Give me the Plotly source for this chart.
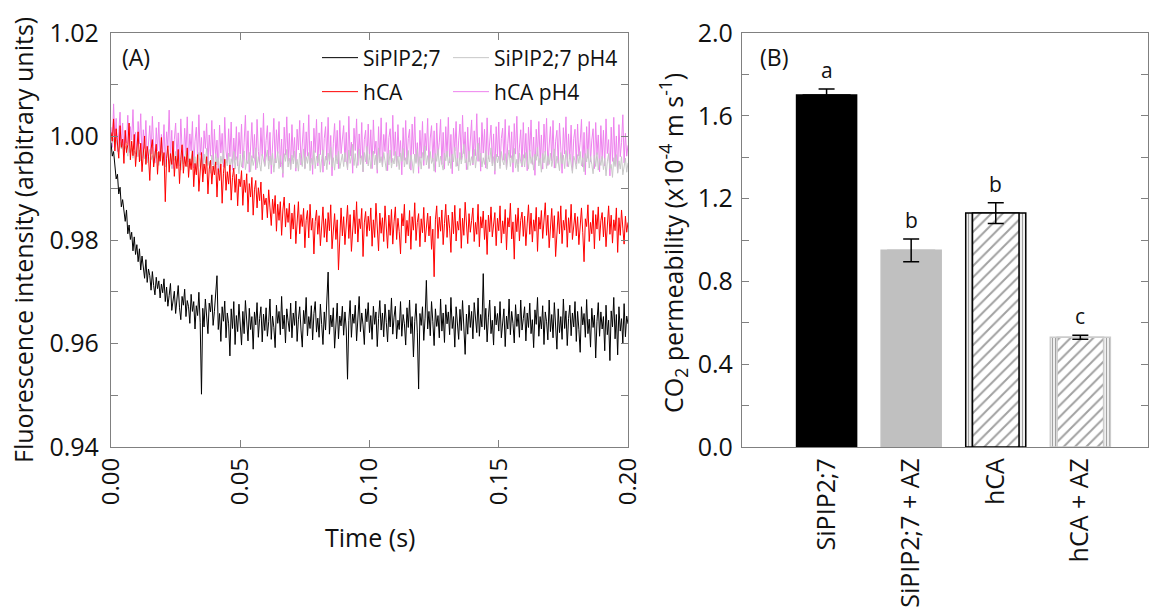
import plotly.graph_objects as go

# ---------------- Panel A data ----------------
time_step = 0.0005
n_points = 401
time_s = [round(i * time_step, 4) for i in range(n_points)]

sipip_trace = [
    0.9988, 0.9962, 0.9971, 0.9935, 0.9918, 0.9927, 0.9889, 0.9902, 0.9864, 0.9878, 0.9851, 0.9836, 0.9858, 0.9812, 0.9829, 0.9801, 0.9815, 0.9779, 0.9806, 0.9772,
    0.9791, 0.9758, 0.9783, 0.9742, 0.9769, 0.9751, 0.9726, 0.9762, 0.9718, 0.9744, 0.9731, 0.9703, 0.9739, 0.9712, 0.9694, 0.9728, 0.9706, 0.9721, 0.9688, 0.9715,
    0.9698, 0.9725, 0.9681, 0.9709, 0.9672, 0.9693, 0.9716, 0.9664, 0.9689, 0.9701, 0.9658, 0.9684, 0.9712, 0.9669, 0.9646, 0.9691, 0.9674, 0.9705, 0.9652, 0.9683,
    0.9671, 0.9639, 0.9695, 0.9662, 0.9681, 0.9628, 0.9673, 0.9654, 0.9699, 0.9641, 0.9502, 0.9668, 0.9632, 0.9686, 0.9657, 0.9619, 0.9678, 0.9661, 0.9694, 0.9635,
    0.9662, 0.9689, 0.9731, 0.9627, 0.9658, 0.9604, 0.9671, 0.9643, 0.9682, 0.9611, 0.9659, 0.9638, 0.9576, 0.9667, 0.9629, 0.9681, 0.9598, 0.9654, 0.9623, 0.9676,
    0.9634, 0.9597, 0.9662, 0.9619, 0.9683, 0.9641, 0.9605, 0.9668, 0.9627, 0.9652, 0.9589, 0.9661, 0.9636, 0.9679, 0.9612, 0.9648, 0.9671, 0.9603, 0.9657, 0.9625,
    0.9669, 0.9614, 0.9642, 0.9686, 0.9608, 0.9653, 0.9631, 0.9592, 0.9674, 0.9639, 0.9662, 0.9617, 0.9691, 0.9628, 0.9655, 0.9601, 0.9667, 0.9644, 0.9623, 0.9678,
    0.9611, 0.9659, 0.9635, 0.9682, 0.9604, 0.9647, 0.9671, 0.9626, 0.9593, 0.9664, 0.9638, 0.9689, 0.9615, 0.9652, 0.9629, 0.9673, 0.9607, 0.9658, 0.9681, 0.9622,
    0.9649, 0.9612, 0.9676, 0.9637, 0.9598, 0.9661, 0.9626, 0.9684, 0.9738, 0.9618, 0.9655, 0.9632, 0.9669, 0.9591, 0.9647, 0.9678, 0.9609, 0.9653, 0.9634, 0.9672,
    0.9616, 0.9661, 0.9628, 0.9531, 0.9644, 0.9683, 0.9612, 0.9657, 0.9639, 0.9674, 0.9605, 0.9648, 0.9691, 0.9623, 0.9659, 0.9636, 0.9598, 0.9667, 0.9642, 0.9679,
    0.9621, 0.9654, 0.9608, 0.9672, 0.9637, 0.9661, 0.9594, 0.9648, 0.9683, 0.9626, 0.9659, 0.9613, 0.9676, 0.9641, 0.9603, 0.9665, 0.9632, 0.9688, 0.9618, 0.9651,
    0.9672, 0.9609, 0.9645, 0.9627, 0.9681, 0.9614, 0.9656, 0.9638, 0.9597, 0.9669, 0.9631, 0.9684, 0.9619, 0.9652, 0.9574, 0.9643, 0.9677, 0.9622, 0.9512, 0.9658,
    0.9635, 0.9671, 0.9606, 0.9649, 0.9722, 0.9628, 0.9662, 0.9615, 0.9681, 0.9642, 0.9596, 0.9667, 0.9633, 0.9654, 0.9611, 0.9686, 0.9624, 0.9659, 0.9602, 0.9675,
    0.9638, 0.9661, 0.9617, 0.9689, 0.9629, 0.9652, 0.9593, 0.9671, 0.9644, 0.9608, 0.9666, 0.9625, 0.9683, 0.9639, 0.9579, 0.9657, 0.9618, 0.9674, 0.9631, 0.9662,
    0.9609, 0.9679, 0.9642, 0.9621, 0.9688, 0.9614, 0.9656, 0.9632, 0.9735, 0.9627, 0.9668, 0.9603, 0.9651, 0.9684, 0.9619, 0.9645, 0.9597, 0.9672, 0.9636, 0.9658,
    0.9624, 0.9681, 0.9611, 0.9649, 0.9667, 0.9594, 0.9653, 0.9628, 0.9686, 0.9617, 0.9662, 0.9639, 0.9601, 0.9675, 0.9633, 0.9657, 0.9612, 0.9684, 0.9626, 0.9648,
    0.9671, 0.9605, 0.9659, 0.9631, 0.9678, 0.9619, 0.9646, 0.9592, 0.9665, 0.9637, 0.9689, 0.9614, 0.9652, 0.9628, 0.9673, 0.9598, 0.9661, 0.9642, 0.9607, 0.9684,
    0.9623, 0.9656, 0.9611, 0.9679, 0.9634, 0.9589, 0.9667, 0.9621, 0.9652, 0.9608, 0.9686, 0.9629, 0.9663, 0.9596, 0.9648, 0.9674, 0.9615, 0.9659, 0.9632, 0.9681,
    0.9604, 0.9662, 0.9627, 0.9583, 0.9671, 0.9636, 0.9658, 0.9612, 0.9685, 0.9619, 0.9647, 0.9593, 0.9668, 0.9631, 0.9655, 0.9572, 0.9643, 0.9679, 0.9614, 0.9661,
    0.9628, 0.9652, 0.9586, 0.9674, 0.9617, 0.9645, 0.9567, 0.9663, 0.9632, 0.9689, 0.9609, 0.9656, 0.9578, 0.9671, 0.9624, 0.9648, 0.9601, 0.9677, 0.9613, 0.9653,
    0.9638,
]

hca_trace = [
    1.0008, 0.9991, 1.0034, 0.9972, 1.0015, 0.9986, 0.9958, 1.0021, 0.9979, 0.9995, 0.9948, 1.0012, 0.9969, 0.9984, 1.0026, 0.9955, 0.9991, 0.9963, 1.0004, 0.9942,
    0.9978, 1.0009, 0.9951, 0.9987, 0.9932, 0.9973, 1.0001, 0.9946, 0.9981, 0.9962, 0.9915, 0.9976, 0.9994, 0.9941, 0.9968, 0.9985, 0.9927, 0.9971, 0.9952, 0.9998,
    0.9944, 0.9969, 0.9874, 0.9958, 0.9982, 0.9931, 0.9967, 0.9946, 0.9991, 0.9923, 0.9962, 0.9938, 0.9975, 0.9909, 0.9956, 0.9984, 0.9929, 0.9961, 0.9942, 0.9978,
    0.9921, 0.9957, 0.9936, 0.9972, 0.9903, 0.9948, 0.9926, 0.9965, 0.9894, 0.9941, 0.9969, 0.9912, 0.9947, 0.9928, 0.9961, 0.9889, 0.9937, 0.9954, 0.9908, 0.9943,
    0.9926, 0.9951, 0.9883, 0.9938, 0.9915, 0.9947, 0.9871, 0.9929, 0.9956, 0.9896, 0.9932, 0.9908, 0.9945, 0.9877, 0.9921, 0.9939, 0.9892, 0.9927, 0.9866, 0.9918,
    0.9903, 0.9934, 0.9867, 0.9916, 0.9892, 0.9928, 0.9854, 0.9909, 0.9883, 0.9921, 0.9848, 0.9897, 0.9915, 0.9862, 0.9901, 0.9876, 0.9912, 0.9839, 0.9889, 0.9868,
    0.9881, 0.9843, 0.9897, 0.9862, 0.9828, 0.9879, 0.9851, 0.9886, 0.9817, 0.9869, 0.9838, 0.9874, 0.9809, 0.9858, 0.9883, 0.9825, 0.9861, 0.9834, 0.9871, 0.9802,
    0.9852, 0.9821, 0.9868, 0.9793, 0.9845, 0.9874, 0.9812, 0.9849, 0.9826, 0.9861, 0.9785, 0.9838, 0.9857, 0.9804, 0.9869, 0.9819, 0.9842, 0.9773, 0.9836, 0.9858,
    0.9811, 0.9847, 0.9789, 0.9832, 0.9864, 0.9805, 0.9841, 0.9796, 0.9853, 0.9818, 0.9868, 0.9783, 0.9829, 0.9851, 0.9801, 0.9839, 0.9742, 0.9826, 0.9862, 0.9808,
    0.9845, 0.9791, 0.9836, 0.9867, 0.9803, 0.9849, 0.9778, 0.9829, 0.9858, 0.9812, 0.9874, 0.9796, 0.9841, 0.9822, 0.9861, 0.9768, 0.9833, 0.9855, 0.9807, 0.9846,
    0.9818, 0.9862, 0.9788, 0.9839, 0.9805, 0.9871, 0.9824, 0.9779, 0.9852, 0.9813, 0.9843, 0.9797, 0.9866, 0.9821, 0.9784, 0.9848, 0.9809, 0.9859, 0.9792, 0.9835,
    0.9864, 0.9801, 0.9842, 0.9816, 0.9773, 0.9851, 0.9827, 0.9869, 0.9794, 0.9838, 0.9808, 0.9857, 0.9782, 0.9845, 0.9819, 0.9872, 0.9799, 0.9834, 0.9851, 0.9787,
    0.9841, 0.9814, 0.9863, 0.9796, 0.9829, 0.9852, 0.9808, 0.9846, 0.9782, 0.9821, 0.9729, 0.9839, 0.9866, 0.9803, 0.9844, 0.9817, 0.9858, 0.9791, 0.9832, 0.9869,
    0.9805, 0.9848, 0.9823, 0.9776, 0.9854, 0.9812, 0.9867, 0.9798, 0.9836, 0.9819, 0.9861, 0.9784, 0.9842, 0.9809, 0.9873, 0.9826, 0.9793, 0.9851, 0.9815, 0.9838,
    0.9862, 0.9797, 0.9834, 0.9811, 0.9869, 0.9787, 0.9845, 0.9823, 0.9856, 0.9801, 0.9839, 0.9772, 0.9848, 0.9816, 0.9864, 0.9806, 0.9831, 0.9853, 0.9789, 0.9842,
    0.9818, 0.9866, 0.9794, 0.9837, 0.9812, 0.9859, 0.9781, 0.9843, 0.9825, 0.9871, 0.9802, 0.9835, 0.9763, 0.9849, 0.9816, 0.9862, 0.9798, 0.9838, 0.9854, 0.9807,
    0.9846, 0.9789, 0.9831, 0.9868, 0.9811, 0.9852, 0.9796, 0.9839, 0.9817, 0.9863, 0.9778, 0.9844, 0.9821, 0.9857, 0.9803, 0.9836, 0.9872, 0.9809, 0.9848, 0.9785,
    0.9833, 0.9861, 0.9804, 0.9847, 0.9768, 0.9829, 0.9855, 0.9812, 0.9866, 0.9793, 0.9838, 0.9819, 0.9859, 0.9786, 0.9843, 0.9814, 0.9869, 0.9801, 0.9834, 0.9852,
    0.9808, 0.9845, 0.9791, 0.9836, 0.9862, 0.9815, 0.9758, 0.9841, 0.9826, 0.9868, 0.9797, 0.9834, 0.9812, 0.9857, 0.9783, 0.9849, 0.9821, 0.9864, 0.9799, 0.9837,
    0.9853, 0.9806, 0.9844, 0.9787, 0.9831, 0.9866, 0.9811, 0.9848, 0.9794, 0.9839, 0.9818, 0.9862, 0.9776, 0.9843, 0.9809, 0.9858, 0.9823, 0.9792, 0.9846, 0.9815,
    0.9834,
]

sipip_ph4_trace = [
    1.0004, 0.9987, 0.9996, 0.9979, 0.9993, 0.9982, 0.9971, 0.9989, 0.9976, 0.9985, 0.9968, 0.9981, 0.9974, 0.9962, 0.9983, 0.9969, 0.9977, 0.9958, 0.9972, 0.9966,
    0.9979, 0.9961, 0.9974, 0.9953, 0.9968, 0.9976, 0.9957, 0.9971, 0.9949, 0.9966, 0.9975, 0.9955, 0.9963, 0.9947, 0.9972, 0.9958, 0.9969, 0.9944, 0.9961, 0.9973,
    0.9952, 0.9967, 0.9941, 0.9963, 0.9975, 0.9948, 0.9959, 0.9938, 0.9966, 0.9954, 0.9971, 0.9943, 0.9962, 0.9951, 0.9935, 0.9968, 0.9947, 0.9959, 0.9972, 0.9941,
    0.9963, 0.9939, 0.9957, 0.9974, 0.9946, 0.9961, 0.9932, 0.9955, 0.9969, 0.9942, 0.9958, 0.9936, 0.9966, 0.9949, 0.9977, 0.9944, 0.9952, 0.9929, 0.9964, 0.9951,
    0.9938, 0.9967, 0.9945, 0.9959, 0.9931, 0.9962, 0.9948, 0.9973, 0.9939, 0.9956, 0.9943, 0.9968, 0.9934, 0.9957, 0.9946, 0.9971, 0.9937, 0.9961, 0.9952, 0.9928,
    0.9965, 0.9941, 0.9958, 0.9972, 0.9936, 0.9954, 0.9947, 0.9969, 0.9932, 0.9963, 0.9944, 0.9956, 0.9978, 0.9939, 0.9961, 0.9948, 0.9933, 0.9966, 0.9951, 0.9942,
    0.9959, 0.9974, 0.9937, 0.9962, 0.9945, 0.9968, 0.9931, 0.9957, 0.9949, 0.9971, 0.9938, 0.9963, 0.9946, 0.9929, 0.9967, 0.9952, 0.9975, 0.9941, 0.9958, 0.9936,
    0.9964, 0.9947, 0.9972, 0.9939, 0.9956, 0.9933, 0.9968, 0.9951, 0.9942, 0.9976, 0.9937, 0.9961, 0.9948, 0.9969, 0.9934, 0.9958, 0.9945, 0.9973, 0.9938, 0.9962,
    0.9949, 0.9966, 0.9931, 0.9957, 0.9974, 0.9943, 0.9962, 0.9936, 0.9968, 0.9952, 0.9979, 0.9941, 0.9959, 0.9935, 0.9964, 0.9947, 0.9971, 0.9938, 0.9955, 0.9966,
    0.9942, 0.9969, 0.9953, 0.9937, 0.9974, 0.9948, 0.9961, 0.9985, 0.9944, 0.9967, 0.9939, 0.9958, 0.9976, 0.9946, 0.9963, 0.9932, 0.9969, 0.9951, 0.9981, 0.9943,
    0.9966, 0.9938, 0.9957, 0.9972, 0.9945, 0.9964, 0.9936, 0.9978, 0.9949, 0.9961, 0.9941, 0.9969, 0.9953, 0.9934, 0.9967, 0.9945, 0.9974, 0.9939, 0.9958, 0.9947,
    0.9971, 0.9943, 0.9962, 0.9936, 0.9968, 0.9952, 0.9977, 0.9941, 0.9959, 0.9946, 0.9973, 0.9938, 0.9964, 0.9951, 0.9929, 0.9966, 0.9948, 0.9975, 0.9942, 0.9961,
    0.9937, 0.9969, 0.9954, 0.9982, 0.9945, 0.9963, 0.9939, 0.9971, 0.9948, 0.9958, 0.9933, 0.9967, 0.9952, 0.9976, 0.9941, 0.9962, 0.9947, 0.9935, 0.9968, 0.9953,
    0.9972, 0.9944, 0.9961, 0.9938, 0.9966, 0.9951, 0.9979, 0.9942, 0.9958, 0.9934, 0.9969, 0.9947, 0.9963, 0.9985, 0.9949, 0.9957, 0.9936, 0.9972, 0.9944, 0.9961,
    0.9948, 0.9975, 0.9939, 0.9963, 0.9987, 0.9952, 0.9968, 0.9941, 0.9959, 0.9946, 0.9973, 0.9937, 0.9964, 0.9951, 0.9978, 0.9943, 0.9961, 0.9934, 0.9966, 0.9949,
    0.9962, 0.9938, 0.9971, 0.9953, 0.9945, 0.9967, 0.9936, 0.9958, 0.9974, 0.9942, 0.9963, 0.9949, 0.9977, 0.9939, 0.9956, 0.9932, 0.9968, 0.9951, 0.9943, 0.9965,
    0.9941, 0.9969, 0.9952, 0.9937, 0.9974, 0.9948, 0.9961, 0.9935, 0.9966, 0.9954, 0.9979, 0.9943, 0.9958, 0.9931, 0.9967, 0.9949, 0.9972, 0.9938, 0.9963, 0.9946,
    0.9968, 0.9942, 0.9957, 0.9976, 0.9939, 0.9962, 0.9951, 0.9934, 0.9969, 0.9947, 0.9964, 0.9938, 0.9973, 0.9955, 0.9941, 0.9966, 0.9949, 0.9929, 0.9962, 0.9953,
    0.9937, 0.9965, 0.9948, 0.9971, 0.9943, 0.9959, 0.9932, 0.9967, 0.9951, 0.9976, 0.9939, 0.9961, 0.9946, 0.9928, 0.9964, 0.9942, 0.9969, 0.9935, 0.9957, 0.9944,
    0.9962, 0.9936, 0.9958, 0.9924, 0.9951, 0.9967, 0.9938, 0.9946, 0.9921, 0.9959, 0.9942, 0.9965, 0.9929, 0.9953, 0.9937, 0.9961, 0.9926, 0.9948, 0.9958, 0.9931,
    0.9949,
]

hca_ph4_trace = [
    1.0018, 0.9979, 1.0063, 0.9992, 1.0035, 0.9971, 1.0009, 1.0047, 0.9983, 1.0026, 0.9964, 1.0011, 0.9988, 1.0041, 0.9969, 1.0019, 0.9993, 1.0052, 0.9975, 1.0008,
    0.9961, 1.0029, 0.9986, 1.0044, 0.9958, 1.0013, 0.9977, 1.0031, 0.9952, 0.9996, 1.0021, 0.9966, 1.0039, 0.9981, 0.9949, 1.0017, 0.9972, 1.0028, 0.9955, 1.0004,
    0.9968, 1.0023, 0.9947, 1.0009, 0.9981, 1.0051, 0.9959, 1.0012, 0.9938, 0.9994, 1.0026, 0.9961, 1.0007, 0.9943, 1.0034, 0.9975, 0.9952, 1.0016, 0.9969, 1.0038,
    0.9951, 1.0005, 0.9972, 1.0029, 0.9939, 0.9991, 1.0018, 0.9956, 1.0042, 0.9964, 0.9998, 0.9934, 1.0011, 0.9977, 1.0025, 0.9948, 1.0003, 0.9962, 1.0031, 0.9945,
    1.0014, 0.9958, 0.9993, 0.9927, 1.0022, 0.9968, 1.0006, 0.9941, 1.0037, 0.9972, 0.9949, 1.0015, 0.9961, 1.0028, 0.9935, 0.9997, 0.9954, 1.0019, 0.9943, 1.0008,
    0.9966, 1.0024, 0.9939, 0.9989, 1.0041, 0.9952, 1.0011, 0.9931, 0.9985, 1.0027, 0.9958, 1.0004, 0.9936, 1.0033, 0.9971, 0.9947, 1.0017, 0.9962, 1.0045, 0.9944,
    0.9992, 1.0021, 0.9953, 1.0008, 0.9928, 0.9986, 1.0035, 0.9949, 1.0013, 0.9967, 1.0029, 0.9941, 0.9995, 0.9921, 1.0018, 0.9964, 1.0038, 0.9952, 1.0006, 0.9937,
    1.0023, 0.9959, 0.9998, 0.9933, 1.0014, 0.9974, 1.0031, 0.9945, 0.9988, 1.0026, 0.9939, 1.0009, 0.9962, 1.0042, 0.9948, 0.9991, 0.9927, 1.0016, 0.9969, 1.0033,
    0.9943, 1.0007, 0.9965, 1.0028, 0.9931, 0.9996, 1.0019, 0.9954, 1.0037, 0.9946, 1.0002, 0.9924, 0.9987, 1.0025, 0.9958, 1.0012, 0.9938, 1.0031, 0.9967, 0.9993,
    1.0021, 0.9951, 1.0008, 0.9936, 1.0039, 0.9962, 0.9989, 0.9929, 1.0016, 0.9973, 1.0034, 0.9944, 1.0005, 0.9958, 1.0027, 0.9932, 0.9994, 1.0012, 0.9947, 1.0024,
    0.9956, 1.0013, 0.9938, 1.0032, 0.9967, 0.9991, 0.9929, 1.0019, 0.9952, 1.0036, 0.9945, 1.0004, 0.9971, 1.0027, 0.9934, 0.9998, 1.0015, 0.9949, 1.0041, 0.9963,
    1.0009, 0.9942, 1.0023, 0.9961, 0.9992, 0.9926, 1.0017, 0.9954, 1.0031, 0.9947, 0.9996, 1.0014, 0.9935, 1.0024, 0.9966, 1.0038, 0.9951, 0.9988, 0.9929, 1.0012,
    0.9958, 1.0029, 0.9944, 1.0006, 0.9973, 1.0035, 0.9938, 0.9997, 1.0021, 0.9952, 1.0011, 0.9931, 1.0026, 0.9964, 0.9989, 1.0033, 0.9946, 1.0008, 0.9937, 1.0019,
    0.9961, 1.0037, 0.9949, 1.0004, 0.9928, 1.0016, 0.9972, 1.0029, 0.9943, 0.9993, 1.0024, 0.9955, 1.0041, 0.9967, 1.0009, 0.9936, 1.0018, 0.9951, 0.9986, 1.0032,
    0.9945, 1.0011, 0.9963, 1.0044, 0.9952, 0.9998, 0.9933, 1.0027, 0.9968, 1.0014, 0.9939, 1.0036, 0.9957, 0.9991, 1.0022, 0.9948, 1.0005, 0.9927, 1.0019, 0.9961,
    1.0028, 0.9943, 0.9996, 1.0016, 0.9954, 1.0033, 0.9938, 0.9987, 1.0021, 0.9959, 1.0009, 0.9931, 1.0025, 0.9966, 1.0039, 0.9947, 0.9992, 1.0013, 0.9941, 1.0027,
    0.9958, 1.0006, 0.9934, 1.0018, 0.9971, 1.0032, 0.9946, 0.9999, 0.9925, 1.0014, 0.9962, 1.0029, 0.9951, 1.0003, 0.9937, 1.0024, 0.9969, 1.0035, 0.9944, 0.9995,
    1.0019, 0.9953, 1.0031, 0.9939, 0.9991, 1.0012, 0.9948, 1.0026, 0.9961, 0.9929, 1.0017, 0.9966, 1.0038, 0.9942, 1.0005, 0.9957, 1.0022, 0.9934, 0.9996, 1.0014,
    0.9947, 1.0024, 0.9962, 0.9989, 1.0033, 0.9941, 1.0008, 0.9926, 1.0019, 0.9958, 1.0029, 0.9951, 0.9993, 1.0015, 0.9938, 1.0027, 0.9965, 1.0003, 0.9932, 1.0021,
    0.9956, 1.0012, 0.9943, 1.0034, 0.9967, 0.9994, 0.9924, 1.0018, 0.9952, 1.0037, 0.9946, 1.0001, 0.9931, 1.0023, 0.9961, 0.9988, 1.0042, 0.9949, 1.0006, 0.9962,
    0.9983,
]

# ---------------- Panel B data ----------------
categories = ["SiPIP2;7", "SiPIP2;7 + AZ", "hCA", "hCA + AZ"]
permeability = [1.70, 0.95, 1.13, 0.53]
permeability_err = [0.03, 0.055, 0.05, 0.01]
sig_letters = ["a", "b", "b", "c"]

FONT = "Open Sans"
AXC = "#808080"
TXT = "#111111"
W, H = 1150, 607

fig = go.Figure()

# Panel A lines (draw order: violet, gray, red, black); one legend per entry
fig.add_trace(go.Scatter(x=time_s, y=hca_ph4_trace, mode="lines", name="hCA pH4",
                         line=dict(color="#ee82ee", width=1), legend="legend4",
                         xaxis="x", yaxis="y"))
fig.add_trace(go.Scatter(x=time_s, y=sipip_ph4_trace, mode="lines", name="SiPIP2;7 pH4",
                         line=dict(color="#c8c8c8", width=1), legend="legend3",
                         xaxis="x", yaxis="y"))
fig.add_trace(go.Scatter(x=time_s, y=hca_trace, mode="lines", name="hCA",
                         line=dict(color="#ff0000", width=1), legend="legend2",
                         xaxis="x", yaxis="y"))
fig.add_trace(go.Scatter(x=time_s, y=sipip_trace, mode="lines", name="SiPIP2;7",
                         line=dict(color="#000000", width=1), legend="legend",
                         xaxis="x", yaxis="y"))

# Panel B bars: outer (striped border) + inner (hatch)
outer_fill = ["#000000", "#c0c0c0", "#ffffff", "#ffffff"]
outer_fg = ["#000000", "#c0c0c0", "#000000", "#cccccc"]
outer_shape = ["", "", "|", "|"]
inner_shape = ["", "", "/", "/"]

fig.add_trace(go.Bar(x=categories, y=permeability, width=0.71, showlegend=False,
                     marker=dict(color=outer_fill,
                                 line=dict(color=outer_fg, width=1.5),
                                 pattern=dict(shape=outer_shape, fgcolor=outer_fg,
                                              size=3, solidity=0.45)),
                     xaxis="x2", yaxis="y2"))
fig.add_trace(go.Bar(x=categories, y=permeability, width=0.55, showlegend=False,
                     marker=dict(color=outer_fill,
                                 line=dict(color=outer_fg, width=1.5),
                                 pattern=dict(shape=inner_shape, fgcolor=outer_fg,
                                              size=8, solidity=0.25)),
                     error_y=dict(type="data", array=permeability_err, color="#000000",
                                  thickness=1.5, width=8),
                     xaxis="x2", yaxis="y2"))

annotations = []
for c, v, e, l in zip(categories, permeability, permeability_err, sig_letters):
    annotations.append(dict(x=c, y=v + e, xref="x2", yref="y2", text=l, showarrow=False,
                            yanchor="bottom", yshift=3,
                            font=dict(family=FONT, size=21, color=TXT)))
# panel labels
annotations.append(dict(x=120 / W, y=1 - 57 / H, xref="paper", yref="paper",
                        text="(A)", showarrow=False, xanchor="left", yanchor="middle",
                        font=dict(family=FONT, size=23, color=TXT)))
annotations.append(dict(x=758 / W, y=1 - 57 / H, xref="paper", yref="paper",
                        text="(B)", showarrow=False, xanchor="left", yanchor="middle",
                        font=dict(family=FONT, size=23, color=TXT)))
# axis titles
annotations.append(dict(x=369.5 / W, y=1 - 537 / H, xref="paper", yref="paper",
                        text="Time (s)", showarrow=False, xanchor="center", yanchor="middle",
                        font=dict(family=FONT, size=25, color=TXT)))
annotations.append(dict(x=23 / W, y=1 - 240 / H, xref="paper", yref="paper",
                        text="Fluorescence intensity (arbitrary units)", textangle=-90,
                        showarrow=False, xanchor="center", yanchor="middle",
                        font=dict(family=FONT, size=25, color=TXT)))
annotations.append(dict(x=673 / W, y=1 - 243 / H, xref="paper", yref="paper",
                        text="CO<sub>2</sub> permeability (x10<sup>-4</sup> m s<sup>-1</sup>)",
                        textangle=-90, showarrow=False, xanchor="center", yanchor="middle",
                        font=dict(family=FONT, size=25, color=TXT)))

common_axis = dict(showline=True, linecolor=AXC, linewidth=1.3, mirror="ticks",
                   ticks="inside", ticklen=7, tickcolor=AXC, tickwidth=1.3,
                   showgrid=False, zeroline=False, automargin=False,
                   tickfont=dict(family=FONT, size=25, color=TXT))

y_dom = [1 - 447 / H, 1 - 33 / H]


def legend_at(px, py):
    return dict(orientation="h", x=px / W, xanchor="left", y=1 - py / H,
                yanchor="middle", itemwidth=36, bgcolor="rgba(0,0,0,0)",
                font=dict(family=FONT, size=21, color=TXT))


fig.update_layout(
    width=W, height=H, autosize=False,
    margin=dict(l=0, r=0, t=0, b=0, pad=0),
    paper_bgcolor="white", plot_bgcolor="white",
    font=dict(family=FONT, color=TXT),
    barmode="overlay",
    xaxis=dict(common_axis, domain=[111 / W, 628 / W], range=[0, 0.2], dtick=0.05,
               tickformat=".2f", tickangle=-90, anchor="y",
               tickfont=dict(family=FONT, size=24, color=TXT)),
    yaxis=dict(common_axis, domain=y_dom, range=[0.94, 1.02], dtick=0.02,
               tickformat=".2f", anchor="x", ticklabelstandoff=6,
               minor=dict(dtick=0.01, ticks="inside", ticklen=7, tickcolor=AXC)),
    xaxis2=dict(common_axis, domain=[742 / W, 1148 / W], type="category",
                range=[-1.0, 3.8], ticks="", tickangle=-90, anchor="y2"),
    yaxis2=dict(common_axis, domain=y_dom, range=[0, 2.0], dtick=0.4, tickformat=".1f",
                anchor="x2", ticklabelstandoff=3,
                minor=dict(dtick=0.2, ticks="inside", ticklen=7, tickcolor=AXC)),
    legend=legend_at(317, 58),
    legend3=legend_at(448, 58),
    legend2=legend_at(317, 92),
    legend4=legend_at(448, 92),
    annotations=annotations,
)

fig.write_html("out.html")
